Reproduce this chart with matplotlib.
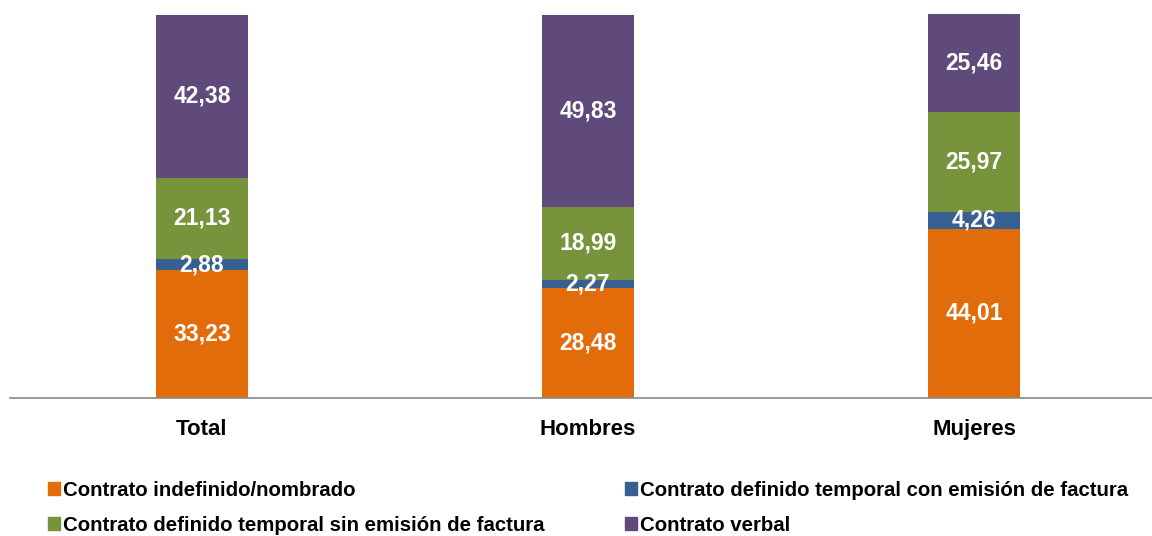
import matplotlib.pyplot as plt
from matplotlib.patches import Patch
import numpy as np

''' Tipo de contrato por sexo '''

categories = ['Total', 'Hombres', 'Mujeres']
indefinido = [33.23, 28.48, 44.01]
con_factura = [2.88, 2.27, 4.26]
sin_factura = [21.13, 18.99, 25.97]
verbal = [42.38, 49.83, 25.46]

series_names = ['Contrato indefinido/nombrado',
                'Contrato definido temporal con emisión de factura',
                'Contrato definido temporal sin emisión de factura',
                'Contrato verbal']
series = [indefinido, con_factura, sin_factura, verbal]
colors = ['#E36C0A', '#376092', '#77933C', '#604A7B']

plt.rcParams['font.family'] = ['Liberation Sans', 'DejaVu Sans']

fig = plt.figure(figsize=(11.52, 5.36), dpi=100)
ax = fig.add_axes([10/1152, 1 - 398/536, 1 - 10/1152, (398 - 14)/536])

x = np.arange(len(categories))
bottom = np.zeros(len(categories))
for vals, col in zip(series, colors):
    vals = np.array(vals)
    ax.bar(x, vals, width=0.238, bottom=bottom, color=col)
    for xi, b, v in zip(x, bottom, vals):
        ax.text(xi, b + v/2, f'{v:.2f}'.replace('.', ','), ha='center', va='center',
                color='white', fontsize=16.5, fontweight='bold')
    bottom += vals

ax.set_xlim(-0.497, 2.461)
ax.set_ylim(0, 99.8)
ax.set_xticks(x)
ax.set_xticklabels(categories, fontsize=16, fontweight='bold')
ax.tick_params(axis='x', length=0, pad=15)
ax.set_yticks([])
for s in ['top', 'right', 'left']:
    ax.spines[s].set_visible(False)
ax.spines['bottom'].set_color('#898989')
ax.spines['bottom'].set_linewidth(1.2)

handles = [Patch(color=c) for c in colors]
order = [0, 2, 1, 3]
fig.legend([handles[i] for i in order], [series_names[i] for i in order],
           ncol=2, loc='upper left', bbox_to_anchor=(40/1152, 1 - 473/536),
           frameon=False, prop={'weight': 'bold', 'size': 14.7},
           handlelength=0.6, handleheight=0.6, handletextpad=0.15,
           columnspacing=3.9, labelspacing=0.78, borderaxespad=0)

fig.savefig('out.png', dpi=100)
